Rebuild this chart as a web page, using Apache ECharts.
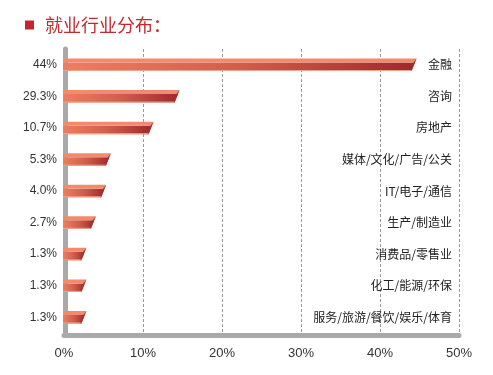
<!DOCTYPE html>
<html>
<head>
<meta charset="utf-8">
<script src="https://cdn.jsdelivr.net/npm/echarts@6/dist/echarts.min.js"></script>
<style>html,body{margin:0;padding:0;background:#fff;}#c{width:493px;height:375px;}</style>
</head>
<body>
<div id="c"></div>
<script>
var categories = ['金融','咨询','房地产','媒体/文化/广告/公关','IT/电子/通信','生产/制造业','消费品/零售业','化工/能源/环保','服务/旅游/餐饮/娱乐/体育'];
var valueLabels = ['44%','29.3%','10.7%','5.3%','4.0%','2.7%','1.3%','1.3%','1.3%'];
var barValues = [44, 14, 10.7, 5.3, 4.7, 3.4, 2.2, 2.2, 2.2];
var xTicks = [0, 10, 20, 30, 40, 50];

var numFont = "'Liberation Sans', 'Noto Sans CJK SC', sans-serif";
var cjkFont = "'Noto Sans CJK SC', 'Liberation Sans', sans-serif";

var chart = echarts.init(document.getElementById('c'));
chart.setOption({
  animation: false,
  backgroundColor: '#fff',
  title: {
    left: 20, top: 11,
    text: '{a|}{b|就业行业分布：}',
    textStyle: {
      fontWeight: 'normal',
      rich: {
        a: {width: 9, height: 9, backgroundColor: '#c1272d'},
        b: {fontSize: 18, fontWeight: 'normal', color: '#c32a2e', fontFamily: cjkFont, padding: [0, 0, 0, 11]}
      }
    }
  },
  grid: {left: 64, right: 34, top: 49, bottom: 42},
  xAxis: {
    type: 'value', min: xTicks[0], max: xTicks[xTicks.length - 1], interval: 10,
    offset: 2.5,
    axisLine: {show: true, lineStyle: {color: '#a9a9ab', width: 5}},
    axisTick: {show: false},
    splitLine: {show: true, lineStyle: {color: '#9a9a9a', type: [3, 2], width: 1}},
    axisLabel: {formatter: '{value}%', fontSize: 13, color: '#333', fontFamily: numFont, margin: 11}
  },
  yAxis: [{
    type: 'category', inverse: true, data: valueLabels,
    offset: -1.5,
    axisLine: {show: true, lineStyle: {color: '#a9a9ab', width: 5}},
    axisTick: {show: false},
    axisLabel: {fontSize: 12, color: '#333', fontFamily: numFont, margin: 8.5}
  }, {
    type: 'category', inverse: true, data: categories, position: 'right',
    axisLine: {show: false}, axisTick: {show: false},
    axisLabel: {inside: true, margin: 7, fontSize: 12, color: '#222', fontFamily: cjkFont}
  }],
  series: [{
    type: 'custom',
    yAxisIndex: 0,
    data: barValues.map(function (v, i) { return [v, i]; }),
    encode: {x: 0, y: 1},
    renderItem: function (params, api) {
      var v = api.value(0), i = api.value(1);
      var p0 = api.coord([0, i]);
      var p1 = api.coord([v, i]);
      var h = 12.5, slant = 5, topH = 4;
      var x0 = p0[0] - 1, xe = p1[0], cy = p0[1];
      var yt = cy - h / 2, yb = cy + h / 2;
      var ym = yt + topH;
      var xm = xe + slant - slant * topH / h;
      return {
        type: 'group',
        children: [{
          type: 'polygon',
          shape: {points: [[x0, ym], [xm, ym], [xe, yb], [x0, yb]]},
          style: {
            fill: new echarts.graphic.LinearGradient(0, 0, 1, 0, [
              {offset: 0, color: '#ee7e60'},
              {offset: 0.5, color: '#cf5f4c'},
              {offset: 1, color: '#9e292b'}
            ])
          }
        }, {
          type: 'polygon',
          shape: {points: [[x0, yt], [xe + slant, yt], [xm, ym], [x0, ym]]},
          style: {fill: '#f08b6f'}
        }, {
          type: 'polygon',
          shape: {points: [[xe + slant, yt], [xm, ym], [xe, yb], [xe - 1.5, yb], [xm - 1.5, ym]]},
          style: {fill: '#a52f2e'}
        }, {
          type: 'line',
          shape: {x1: x0, y1: yb - 0.5, x2: xe, y2: yb - 0.5},
          style: {stroke: '#f2a48c', lineWidth: 1}
        }]
      };
    }
  }]
});
</script>
</body>
</html>
